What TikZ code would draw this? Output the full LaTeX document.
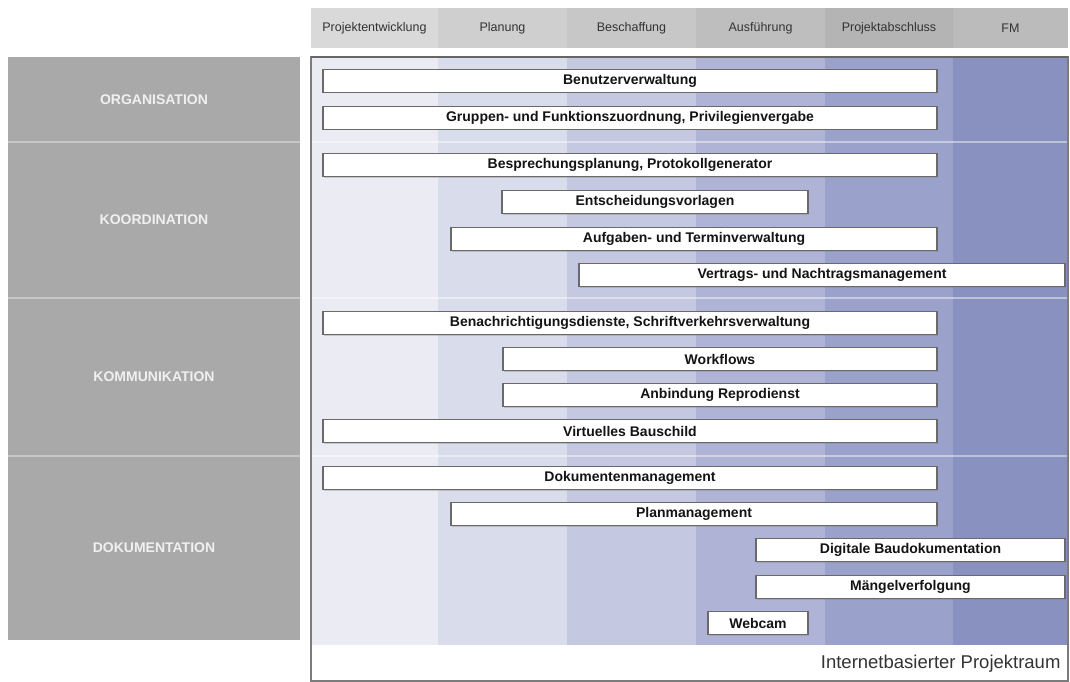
\documentclass[tikz,border=0pt]{standalone}
\usepackage{fontspec}
\setmainfont{Liberation Sans}
\usetikzlibrary{positioning, shadows}
% header greys
\definecolor{hdA}{HTML}{D9D9D9}
\definecolor{hdB}{HTML}{CFCFCF}
\definecolor{hdC}{HTML}{C7C7C7}
\definecolor{hdD}{HTML}{BEBEBE}
\definecolor{hdE}{HTML}{B4B4B4}
\definecolor{hdF}{HTML}{BBBBBB}
% phase columns of the project room
\definecolor{phA}{HTML}{EBEBF4}
\definecolor{phB}{HTML}{D9DCEA}
\definecolor{phC}{HTML}{C4C8E0}
\definecolor{phD}{HTML}{AFB3D5}
\definecolor{phE}{HTML}{9AA2CB}
\definecolor{phF}{HTML}{8891C0}
\definecolor{fieldgray}{HTML}{A9A9A9}
\definecolor{framegray}{HTML}{7C7C7C}
\definecolor{barline}{HTML}{6A6A6A}

\begin{document}
\begin{tikzpicture}[x=1pt, y=-1pt,
    phase/.style={fill=hdA, minimum height=40pt, inner sep=0pt,
                  text=black!80, font=\fontsize{12.5}{14}\selectfont},
    field/.style={fill=fieldgray, minimum width=292pt, inner sep=0pt,
                  text=white!94!black, font=\fontsize{14}{16}\selectfont\bfseries},
    bar/.style={draw=barline, line width=1.2pt, fill=white, minimum height=23pt,
                inner sep=0pt, text=black!92, font=\fontsize{14}{16}\selectfont\bfseries,
                drop shadow={shadow xshift=1pt, shadow yshift=-1pt, opacity=.35}},
    rowsep/.style={white, opacity=.45, line width=2pt}]
  \useasboundingbox (0,0) rectangle (1070,682);

  % Phases (header)
  \foreach \xa/\xb/\name/\txt/\col in {
      311/438/pe/Projektentwicklung/hdA,
      438/567/plan/Planung/hdB,
      567/696/besch/Beschaffung/hdC,
      696/825/ausf/Ausführung/hdD,
      825/953/abschl/Projektabschluss/hdE,
      953/1068/fm/FM/hdF} {
    \node[phase, fill=\col, minimum width={(\xb-\xa)*1pt}]
      (\name) at ({(\xa+\xb)/2},28) {\txt};
  }

  % Project room columns
  \foreach \xa/\xb/\col in {311/438/phA, 438/567/phB, 567/696/phC,
                            696/825/phD, 825/953/phE, 953/1068/phF} {
    \fill[\col] (\xa,58) rectangle (\xb,645);
  }
  \foreach \y in {141.5, 298, 456} {
    \draw[rowsep] (311,\y) -- (1068,\y);
  }
  \draw[framegray, line width=1.5pt] (311,57) rectangle (1068,681);
  \draw[black!60, line width=1.5pt] (311,57) -- (1068,57);
  \node[anchor=east, text=black!80, font=\fontsize{18.5}{20}\selectfont]
    (raum) at (1064,664) {Internetbasierter Projektraum};

  % Fields (left)
  \foreach \ya/\yb/\name/\txt in {
      57/141.5/org/ORGANISATION,
      141.5/298/koord/KOORDINATION,
      298/456/komm/KOMMUNIKATION,
      456/640/doku/DOKUMENTATION} {
    \node[field, minimum height={(\yb-\ya)*1pt}]
      (\name) at (154,{(\ya+\yb)/2}) {\txt};
  }
  \foreach \name in {org, koord, komm} {
    \draw[rowsep, opacity=.35] (\name.south west) -- (\name.south east);
  }

  % Functions
  \foreach \xa/\xb/\y/\name/\txt in {
      323/937/81/benutzer/Benutzerverwaltung,
      323/937/118/gruppen/{Gruppen- und Funktionszuordnung, Privilegienvergabe},
      323/937/165/bespr/{Besprechungsplanung, Protokollgenerator},
      502/808/202/entsch/Entscheidungsvorlagen,
      451/937/239/aufg/Aufgaben- und Terminverwaltung,
      579/1065/275/vertr/Vertrags- und Nachtragsmanagement,
      323/937/323/benach/{Benachrichtigungsdienste, Schriftverkehrsverwaltung},
      503/937/359/workfl/Workflows,
      503/937/395/repro/Anbindung Reprodienst,
      323/937/431/bauschild/Virtuelles Bauschild,
      323/937/478/dokman/Dokumentenmanagement,
      451/937/514/planman/Planmanagement,
      756/1065/550/digbau/Digitale Baudokumentation,
      756/1065/587/maengel/Mängelverfolgung,
      708/808/623/webcam/Webcam} {
    \node[bar, minimum width={(\xb-\xa)*1pt}]
      (\name) at ({(\xa+\xb)/2},\y) {\txt};
  }
\end{tikzpicture}
\end{document}
